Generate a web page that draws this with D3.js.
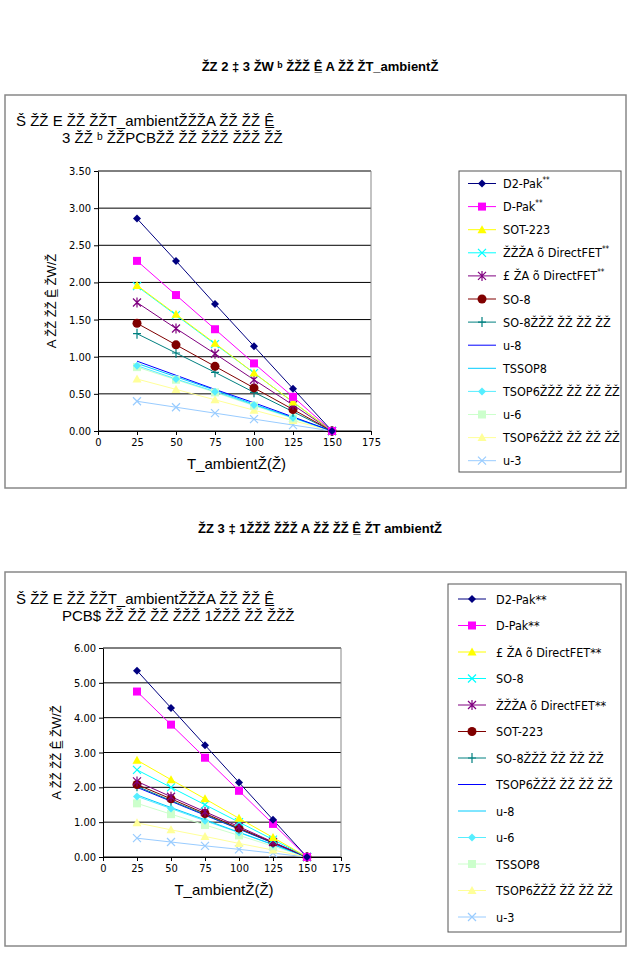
<!DOCTYPE html>
<html>
<head>
<meta charset="utf-8">
<script src="https://cdn.jsdelivr.net/npm/d3@7"></script>
<style>
  body { margin: 0; background: #fff; }
  text { font-family: "Liberation Sans", Arial, sans-serif; }
  .narrow { font-family: "DejaVu Sans Condensed", "Liberation Sans Narrow", "Liberation Sans", sans-serif; }
</style>
</head>
<body>
<div id="charts"></div>
<script>
// ---- data ----
const temps = [25, 50, 75, 100, 125, 150];

// chart 1
const names1 = ["D2-Pak", "D-Pak", "SOT-223", "ŽŽŽA õ  DirectFET", "£ ŽA õ  DirectFET", "SO-8",
                "SO-8ŽŽŽ ŽŽ ŽŽ ŽŽ", "u-8", "TSSOP8", "TSOP6ŽŽŽ ŽŽ ŽŽ ŽŽ", "u-6", "TSOP6ŽŽŽ ŽŽ ŽŽ ŽŽ", "u-3"];
const sup1 = ["**", "**", "", "**", "**", "", "", "", "", "", "", "", ""];
const values1 = [
  [2.86, 2.29, 1.71, 1.14, 0.57, 0],
  [2.29, 1.83, 1.37, 0.91, 0.46, 0],
  [1.96, 1.57, 1.18, 0.78, 0.39, 0],
  [1.95, 1.56, 1.17, 0.78, 0.39, 0],
  [1.73, 1.38, 1.04, 0.69, 0.35, 0],
  [1.45, 1.16, 0.87, 0.58, 0.29, 0],
  [1.31, 1.05, 0.79, 0.52, 0.26, 0],
  [0.94, 0.75, 0.56, 0.38, 0.19, 0],
  [0.91, 0.73, 0.55, 0.36, 0.18, 0],
  [0.88, 0.70, 0.53, 0.35, 0.18, 0],
  [0.86, 0.69, 0.52, 0.34, 0.17, 0],
  [0.70, 0.56, 0.42, 0.28, 0.14, 0],
  [0.40, 0.32, 0.24, 0.16, 0.08, 0]
];
const yTicks1 = [0, 0.5, 1.0, 1.5, 2.0, 2.5, 3.0, 3.5];

// chart 2
const names2 = ["D2-Pak**", "D-Pak**", "£ ŽA õ DirectFET**", "SO-8", "ŽŽŽA õ  DirectFET**", "SOT-223",
                "SO-8ŽŽŽ ŽŽ ŽŽ ŽŽ", "TSOP6ŽŽŽ ŽŽ ŽŽ ŽŽ", "u-8", "u-6", "TSSOP8", "TSOP6ŽŽŽ ŽŽ ŽŽ ŽŽ", "u-3"];
const values2 = [
  [5.35, 4.28, 3.21, 2.14, 1.07, 0],
  [4.75, 3.80, 2.85, 1.90, 0.95, 0],
  [2.78, 2.22, 1.67, 1.11, 0.56, 0],
  [2.50, 2.00, 1.50, 1.00, 0.50, 0],
  [2.17, 1.73, 1.30, 0.87, 0.43, 0],
  [2.08, 1.67, 1.25, 0.83, 0.42, 0],
  [2.03, 1.62, 1.22, 0.81, 0.41, 0],
  [2.00, 1.60, 1.20, 0.80, 0.40, 0],
  [1.78, 1.42, 1.07, 0.71, 0.36, 0],
  [1.74, 1.39, 1.04, 0.70, 0.35, 0],
  [1.54, 1.23, 0.92, 0.62, 0.31, 0],
  [0.98, 0.78, 0.59, 0.39, 0.20, 0],
  [0.54, 0.43, 0.32, 0.22, 0.11, 0]
];
const yTicks2 = [0, 1, 2, 3, 4, 5, 6];
const xTicks = [0, 25, 50, 75, 100, 125, 150, 175];

// series styles (excel-ish palette)
const styles1 = [
  {c: "#000080", m: "diamond"}, {c: "#ff00ff", m: "square"}, {c: "#ffff00", m: "triangle"},
  {c: "#00ffff", m: "x"}, {c: "#800080", m: "star"}, {c: "#800000", m: "circle"},
  {c: "#008080", m: "plus"}, {c: "#0000ff", m: null}, {c: "#00ccff", m: null},
  {c: "#55eeff", m: "diamond"}, {c: "#ccffcc", m: "square"}, {c: "#ffff99", m: "triangle"},
  {c: "#99ccff", m: "x"}
];
const styles2 = styles1;

const svg = d3.select("#charts").append("svg").attr("width", 633).attr("height", 966);

function marker(g, type, x, y, color) {
  const s = 4;
  if (type === "diamond") {
    g.append("path").attr("d", `M${x},${y - s}L${x + s},${y}L${x},${y + s}L${x - s},${y}Z`).attr("fill", color);
  } else if (type === "square") {
    g.append("rect").attr("x", x - 4).attr("y", y - 4).attr("width", 8).attr("height", 8).attr("fill", color);
  } else if (type === "triangle") {
    g.append("path").attr("d", `M${x},${y - 4.5}L${x + 4.5},${y + 3.5}L${x - 4.5},${y + 3.5}Z`).attr("fill", color);
  } else if (type === "circle") {
    g.append("circle").attr("cx", x).attr("cy", y).attr("r", 4.5).attr("fill", color);
  } else if (type === "x" || type === "star" || type === "plus") {
    let d = "";
    if (type !== "plus") d += `M${x - 4},${y - 4}L${x + 4},${y + 4}M${x - 4},${y + 4}L${x + 4},${y - 4}`;
    if (type !== "x") d += `M${x},${y - 5}L${x},${y + 5}`;
    if (type === "plus") d += `M${x - 4},${y}L${x + 4},${y}`;
    g.append("path").attr("d", d).attr("stroke", color).attr("stroke-width", 1.2).attr("fill", "none");
  }
}

function drawChart(cfg) {
  const g = svg.append("g");
  g.append("rect").attr("x", cfg.box[0]).attr("y", cfg.box[1]).attr("width", cfg.box[2]).attr("height", cfg.box[3])
    .attr("fill", "none").attr("stroke", "#888").attr("stroke-width", 1.5);

  g.append("text").attr("x", 320).attr("y", cfg.titleY).attr("text-anchor", "middle")
    .attr("font-size", 13).attr("font-weight", "bold").text(cfg.title);

  cfg.sub.forEach((s, i) => {
    g.append("text").attr("x", s.x).attr("y", cfg.subY + i * 17).attr("font-size", 15).text(s.t);
  });

  const x = d3.scaleLinear().domain([0, 175]).range(cfg.xr);
  const y = d3.scaleLinear().domain(cfg.yd).range(cfg.yr);

  // gridlines
  g.selectAll(null).data(cfg.yTicks).enter().append("line")
    .attr("x1", cfg.xr[0]).attr("x2", cfg.xr[1]).attr("y1", d => y(d)).attr("y2", d => y(d))
    .attr("stroke", "#000").attr("stroke-width", 1);
  g.append("line").attr("x1", cfg.xr[1]).attr("x2", cfg.xr[1]).attr("y1", cfg.yr[0]).attr("y2", cfg.yr[1])
    .attr("stroke", "#888");

  const ax = g.append("g").attr("transform", `translate(0,${cfg.yr[0]})`)
    .call(d3.axisBottom(x).tickValues(xTicks).tickSize(4).tickSizeOuter(0));
  const ay = g.append("g").attr("transform", `translate(${cfg.xr[0]},0)`)
    .call(d3.axisLeft(y).tickValues(cfg.yTicks).tickFormat(d3.format(".2f")).tickSize(4).tickSizeOuter(0));
  [ax, ay].forEach(a => {
    a.selectAll("text").attr("font-size", 11).attr("fill", "#000").attr("class", "narrow");
    a.selectAll("line,path").attr("stroke", "#000");
  });

  g.append("text").attr("x", (cfg.xr[0] + cfg.xr[1]) / 2 + 2).attr("y", cfg.yr[0] + 38)
    .attr("text-anchor", "middle").attr("font-size", 15).text("T_ambientŽ(Ž)");
  g.append("text").attr("transform", `translate(${cfg.xr[0] - 42},${(cfg.yr[0] + cfg.yr[1]) / 2}) rotate(-90)`)
    .attr("text-anchor", "middle").attr("font-size", 13).text("A ŽŽ ŽŽ Ê̲ ŽW/Ž");

  const line = d3.line().x((d, i) => x(temps[i])).y(d => y(d));
  const order = d3.range(cfg.values.length).reverse();
  order.forEach(k => {
    const st = cfg.styles[k];
    g.append("path").datum(cfg.values[k]).attr("d", line)
      .attr("fill", "none").attr("stroke", st.c).attr("stroke-width", 1);
  });
  order.forEach(k => {
    const st = cfg.styles[k];
    if (!st.m) return;
    cfg.values[k].forEach((v, i) => marker(g, st.m, x(temps[i]), y(v), st.c));
  });

  // legend
  const L = cfg.legend;
  g.append("rect").attr("x", L.x).attr("y", L.y).attr("width", L.w).attr("height", L.h)
    .attr("fill", "#fff").attr("stroke", "#555");
  cfg.names.forEach((n, i) => {
    const yy = L.first + i * L.step;
    const st = cfg.styles[i];
    g.append("line").attr("x1", L.lx).attr("x2", L.lx + 28).attr("y1", yy).attr("y2", yy)
      .attr("stroke", st.c).attr("stroke-width", 1);
    if (st.m) marker(g, st.m, L.lx + 14, yy, st.c);
    const t = g.append("text").attr("class", "narrow").attr("x", L.tx).attr("y", yy + 4.5)
      .attr("font-size", 12.5).text(n);
    if (cfg.sup && cfg.sup[i]) t.append("tspan").attr("dy", -5).attr("font-size", 8).text(cfg.sup[i]);
  });
}

drawChart({
  box: [5, 95, 621, 393], titleY: 71,
  title: "ŽZ  2 ‡ 3 ŽW ᵇ  ŽŽŽ Ê̲ A ŽŽ ŽT_ambientŽ",
  sub: [{x: 16, t: "Š ŽŽ E  ŽŽ ŽŽT_ambientŽŽŽA ŽŽ ŽŽ Ê̲"}, {x: 62, t: "3 ŽŽ ᵇ  ŽŽPCBŽŽ ŽŽ ŽŽŽ ŽŽŽ ŽŽ"}],
  subY: 126,
  xr: [98, 371], yr: [431, 171], yd: [0, 3.5], yTicks: yTicks1,
  values: values1, styles: styles1, names: names1, sup: sup1,
  legend: {x: 459, y: 171, w: 162, h: 301, first: 183.5, step: 23.1, lx: 468, tx: 503}
});

drawChart({
  box: [5, 572, 621, 374], titleY: 533,
  title: "ŽZ  3 ‡ 1ŽŽŽ ŽŽŽ  A ŽŽ ŽŽ Ê̲ ŽT ambientŽ",
  sub: [{x: 16, t: "Š ŽŽ E  ŽŽ ŽŽT_ambientŽŽŽA ŽŽ ŽŽ Ê̲"}, {x: 62, t: "PCB$ ŽŽ ŽŽ ŽŽ ŽŽŽ  1ŽŽŽ ŽŽ ŽŽŽ"}],
  subY: 604,
  xr: [103, 341], yr: [857, 648], yd: [0, 6], yTicks: yTicks2,
  values: values2, styles: styles2, names: names2, sup: null,
  legend: {x: 448, y: 584, w: 173, h: 348, first: 599, step: 26.5, lx: 458, tx: 496}
});
</script>
</body>
</html>
